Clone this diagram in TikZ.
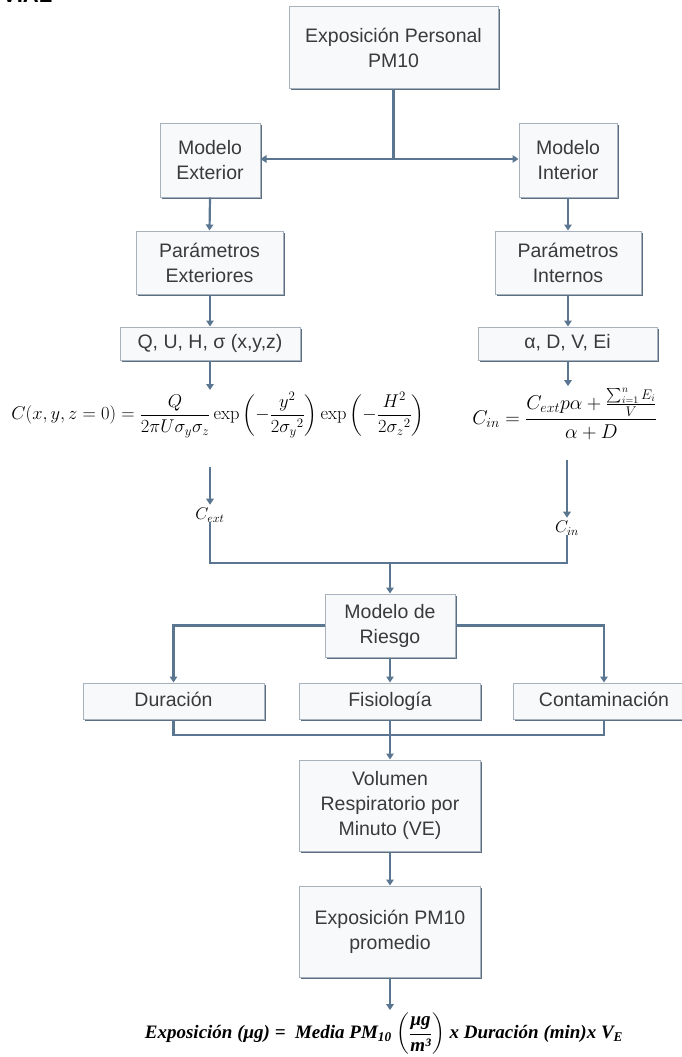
\RequirePackage{fix-cm}
\documentclass[tikz,border=0pt]{standalone}
\usepackage{amsmath}
\usepackage[no-math]{fontspec}
\setmainfont{Liberation Sans}
\newfontfamily\eqfont{Liberation Serif}
\usetikzlibrary{arrows.meta,shadows}

\definecolor{boxedge}{HTML}{A7B2BD}
\definecolor{boxshade}{HTML}{5B6E82}
\definecolor{boxfill}{HTML}{F7F9FB}
\definecolor{linkc}{HTML}{5A7690}
\definecolor{ink}{HTML}{3A3A3A}
\newcommand\eqbi[1]{\mbox{\eqfont\bfseries\itshape #1}}

\begin{document}
\begin{tikzpicture}[x=1pt,y=-1pt,
  box/.style={draw=boxedge, line width=1pt, fill=boxfill, text=ink,
    align=center, inner sep=0pt, font=\fontsize{19.5}{25}\selectfont,
    drop shadow={shadow xshift=1.6pt, shadow yshift=-1.6pt, fill=boxshade, opacity=1}},
  oneline/.style={text height=14pt, text depth=4pt},
  link/.style={draw=linkc, line width=2.2pt},
  arr/.style={link, -{Triangle[length=6pt,width=7.5pt]}},
  eq/.style={inner sep=0pt, text=black},
]
\useasboundingbox (0,0) rectangle (681,1057);

% title line cut by the page edge
\node[anchor=base west, inner sep=0pt, font=\bfseries\fontsize{22}{22}\selectfont] (head) at (2,3) {VIAL};

% boxes
\node[box, minimum width=209, minimum height=81] (top) at (393.5,47.5) {Exposición Personal\\PM10};
\node[box, minimum width=100, minimum height=74] (ext) at (210,160) {Modelo\\Exterior};
\node[box, minimum width=98, minimum height=74] (int) at (568,160) {Modelo\\Interior};
\node[box, minimum width=147, minimum height=63] (pext) at (209.5,262.5) {Parámetros\\Exteriores};
\node[box, minimum width=146, minimum height=63] (pint) at (568,262.5) {Parámetros\\Internos};
\node[box, oneline, minimum width=180, minimum height=33] (q) at (210,343.5) {Q, U, H, σ (x,y,z)};
\node[box, oneline, minimum width=179, minimum height=33] (a) at (567.5,343.5) {α, D, V, Ei};

% concentration equations
\node[eq, font=\fontsize{18.5}{22}\selectfont] (fc) at (218,415)
  {$C(x,y,z=0)=\dfrac{Q}{2\pi U\sigma_y\sigma_z}\exp\left(-\dfrac{y^2}{2{\sigma_y}^2}\right)\exp\left(-\dfrac{H^2}{2{\sigma_z}^2}\right)$};
\node[eq, font=\fontsize{20}{24}\selectfont] (fin) at (565,414)
  {$C_{in}=\dfrac{C_{ext}p\alpha+\frac{\sum_{i=1}^{n}E_i}{V}}{\alpha+D}$};
\node[eq, font=\fontsize{17}{20}\selectfont] (cext) at (210,515) {$C_{ext}$};
\node[eq, font=\fontsize{17}{20}\selectfont] (cin) at (567,528) {$C_{in}$};

\node[box, minimum width=130, minimum height=63] (riesgo) at (390,625.5) {Modelo de\\Riesgo};
\node[box, oneline, minimum width=181, minimum height=36] (dur) at (173.5,701) {Duración};
\node[box, oneline, minimum width=181, minimum height=36] (fis) at (390,701) {Fisiología};
\node[box, oneline, minimum width=182, minimum height=36] (cont) at (604,701) {Contaminación};
\node[box, minimum width=181, minimum height=91] (vol) at (390,805.5) {Volumen\\Respiratorio por\\Minuto (VE)};
\node[box, minimum width=181, minimum height=91] (expo) at (390,931.5) {Exposición PM10\\promedio};

% exposure equation
\node[eq, font=\eqfont\bfseries\itshape\fontsize{19}{22}\selectfont] (ff) at (384,1034)
  {Exposición (μg) = \ Media PM\textsubscript{10} $\left(\dfrac{\eqbi{μg}}{\eqbi{m³}}\right)$ x Duración (min)x V\textsubscript{E}};

% branch points
\coordinate (tb) at (393.5,159);
\coordinate (cextfrom) at (210,467);
\coordinate (cinfrom) at (567,460);
\coordinate (jn) at (390,563);
\coordinate (jb) at (390,735);

% connectors
\draw[link] (top.south) -- (tb);
\draw[arr] (tb) -- (tb -| ext.east);
\draw[arr] (tb) -- (tb -| int.west);
\draw[arr] (ext.south) -- (pext.south |- pext.north);
\draw[arr] (int.south) -- (int.south |- pint.north);
\draw[arr] (ext.south |- pext.south) -- (ext.south |- q.north);
\draw[arr] (int.south |- pint.south) -- (int.south |- a.north);
\draw[arr, shorten >=2pt] (q.south) -- (q.south |- fc.north);
\draw[arr, shorten >=2pt] (int.south |- a.south) -- (int.south |- fin.north);
\draw[arr, shorten >=3pt] (cextfrom) -- (cext.north);
\draw[arr, shorten >=3pt] (cinfrom) -- (cin.north);
\draw[link] (cext.south) |- (jn) -| (cin.south);
\draw[arr] (jn) -- (riesgo.north);
\draw[arr] (riesgo.west) -| (dur.north);
\draw[arr] (riesgo.east) -| (cont.north);
\draw[arr] (riesgo.south) -- (fis.north);
\draw[link] (dur.south) |- (jb) -| (cont.south);
\draw[arr] (fis.south) -- (vol.north);
\draw[arr] (vol.south) -- (expo.north);
\draw[arr, shorten >=3pt] (expo.south) -- (expo.south |- ff.north);
\end{tikzpicture}
\end{document}
